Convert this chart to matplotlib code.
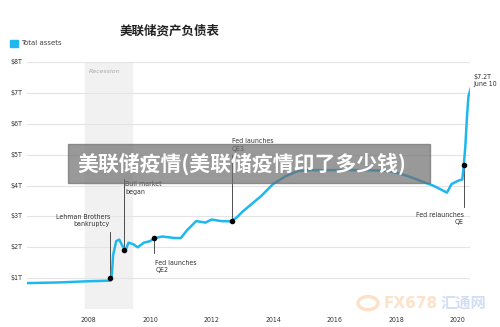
import matplotlib
matplotlib.use("Agg")
import matplotlib.pyplot as plt
from matplotlib.patches import Rectangle, Circle

plt.rcParams['font.family'] = ['DejaVu Sans', 'Noto Sans CJK SC']

# Fed total assets, trillions of dollars (decimal years)
years = [2006.0, 2006.5, 2007.0, 2007.5, 2008.0, 2008.4, 2008.7, 2008.75, 2008.8,
         2008.9, 2009.0, 2009.1, 2009.2, 2009.3, 2009.45, 2009.6, 2009.8, 2010.0,
         2010.13, 2010.4, 2010.8, 2011.0, 2011.2, 2011.5, 2011.8, 2012.0, 2012.3,
         2012.6, 2012.8, 2013.0, 2013.3, 2013.6, 2014.0, 2014.4, 2014.8, 2015.2,
         2016.0, 2017.0, 2017.7, 2018.0, 2018.4, 2018.8, 2019.2, 2019.5, 2019.65,
         2019.8, 2020.0, 2020.15, 2020.2, 2020.25, 2020.3, 2020.35, 2020.44]
assets = [0.84, 0.85, 0.86, 0.88, 0.9, 0.91, 0.92, 1.0, 1.75,
          2.2, 2.25, 2.05, 1.9, 2.15, 2.1, 2.0, 2.15, 2.2,
          2.29, 2.35, 2.3, 2.3, 2.55, 2.85, 2.8, 2.9, 2.85,
          2.84, 2.95, 3.15, 3.4, 3.65, 4.05, 4.3, 4.47, 4.5,
          4.5, 4.5, 4.48, 4.42, 4.3, 4.15, 4.0, 3.85, 3.77,
          4.05, 4.15, 4.2, 4.68, 5.3, 6.2, 6.9, 7.2]

events = [(2008.7, 1.0), (2009.15, 1.9), (2010.13, 2.29), (2012.65, 2.84), (2020.2, 4.68)]
year_ticks = [2008, 2010, 2012, 2014, 2016, 2018, 2020]
asset_ticks = [1, 2, 3, 4, 5, 6, 7, 8]
line_color = '#1fb8ee'

fig = plt.figure(figsize=(5, 3.27), dpi=100)
ax = fig.add_axes([0.054, 0.055, 0.886, 0.755])
ax.set_xlim(2006.0, 2020.4)
ax.set_ylim(0, 8)

ax.axvspan(2007.9, 2009.42, color='#f1f1f1', zorder=0)
ax.text(2008.0, 7.78, 'Recession', fontsize=4.5, style='italic', color='#aaaaaa', va='top')

for t in [0] + asset_ticks:
    ax.axhline(t, color='#e4e4e4', lw=0.8, zorder=1)

ax.plot(years, assets, color=line_color, lw=1.8, zorder=3)

# event callouts
cond = dict(fontsize=5, color='#333333', fontstretch='condensed', linespacing=1.3)
ax.plot([2008.7, 2008.7], [1.0, 2.5], color='#333333', lw=0.6, zorder=2)
ax.text(2008.7, 2.65, 'Lehman Brothers\nbankruptcy', ha='right', va='bottom', **cond)
ax.plot([2009.15, 2009.15], [1.9, 4.2], color='#333333', lw=0.6, zorder=2)
ax.text(2009.2, 3.7, 'Bull market\nbegan', ha='left', va='bottom', **cond)
ax.plot([2010.13, 2010.13], [2.29, 1.8], color='#333333', lw=0.6, zorder=2)
ax.text(2010.17, 1.6, 'Fed launches\nQE2', ha='left', va='top', **cond)
ax.plot([2012.65, 2012.65], [2.84, 5.0], color='#333333', lw=0.6, zorder=2)
ax.text(2012.65, 5.1, 'Fed launches\nQE3', ha='left', va='bottom', **cond)
ax.plot([2020.2, 2020.2], [4.68, 3.3], color='#333333', lw=0.6, zorder=2)
ax.text(2020.2, 3.15, 'Fed relaunches\nQE', ha='right', va='top', **cond)
ax.text(2020.5, 7.4, '$7.2T\nJune 10', ha='left', va='center', clip_on=False, **cond)
ex, ey = zip(*events)
ax.scatter(ex, ey, s=9, color='black', zorder=4)

ax.set_xticks(year_ticks)
ax.set_xticklabels([str(y) for y in year_ticks], fontsize=5, color='#333333', fontstretch='condensed')
ax.set_yticks([])
for t in asset_ticks:
    fig.text(0.02, 0.055 + 0.755 * t / 8, f'${t}T', fontsize=5, color='#333333',
             fontstretch='condensed', va='center', ha='left')
ax.tick_params(axis='x', length=0, pad=6)
for s in ax.spines.values():
    s.set_visible(False)

fig.text(0.34, 0.905, '美联储资产负债表', fontsize=9, fontweight='bold',
         family=['Noto Sans CJK SC'], ha='center', va='center', color='#222222')
fig.patches.append(Rectangle((0.02, 0.857), 0.016, 0.022, transform=fig.transFigure,
                             color=line_color, figure=fig))
fig.text(0.042, 0.868, 'Total assets', fontsize=5, color='#444444', va='center')

# grey banner across the middle
fig.patches.append(Rectangle((0.136, 0.44), 0.724, 0.12, transform=fig.transFigure,
                             color='#6e6e6e', alpha=0.7, zorder=10, figure=fig))
fig.text(0.155, 0.5, '美联储疫情(美联储疫情印了多少钱)', fontsize=15, fontweight='bold',
         family=['Noto Sans CJK SC'], color='white', va='center', ha='left', zorder=11)

# site mark
fig.patches.append(Circle((0.736, 0.073), 0.02, transform=fig.transFigure, fill=False,
                          ec='#f7a04a', lw=2.5, alpha=0.3, figure=fig))
fig.text(0.768, 0.073, 'FX678', fontsize=11, fontweight='bold', color='#f7a04a', alpha=0.3,
         va='center', ha='left')
fig.text(0.882, 0.073, '汇通网', fontsize=11, fontweight='bold', family=['Noto Sans CJK SC'],
         color='#6f8fd8', alpha=0.3, va='center', ha='left')

fig.savefig('out.png', dpi=100)
